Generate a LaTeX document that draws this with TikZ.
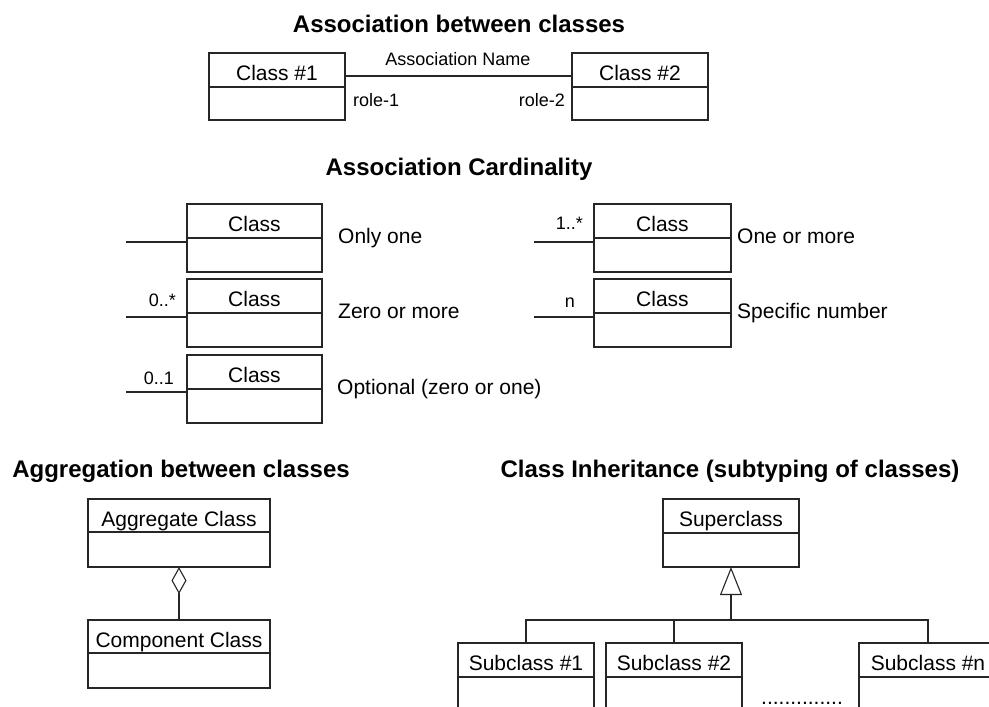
\documentclass[tikz,border=0pt]{standalone}
\usepackage{fontspec}
\setmainfont{Liberation Sans}
\usetikzlibrary{calc,arrows.meta}
\tikzset{
  umlline/.style={line width=1.1pt, draw=black!85},
  umlbox/.style={umlline, inner sep=0pt, outer sep=0pt, anchor=north west},
  clsname/.style={anchor=base, inner sep=0pt, font=\fontsize{21}{25}\selectfont},
  desc/.style={anchor=base west, inner sep=0pt, font=\fontsize{21}{25}\selectfont},
  small/.style={inner sep=0pt, font=\fontsize{18}{22}\selectfont},
  heading/.style={anchor=base, inner sep=0pt, font=\fontsize{24}{28}\selectfont\bfseries},
}
\newcommand\umlcls[7]{%
  \node[umlbox, minimum width=#4pt, minimum height=#5pt] (#1) at (#2,#3) {};
  \node[clsname] (#1t) at ([yshift=-27pt]#1.north) {#7};
  \draw[umlline] ([yshift=-#6pt]#1.north west) -- ([yshift=-#6pt]#1.north east);
}
\begin{document}
\begin{tikzpicture}[x=1pt,y=-1pt]
\clip (0,0) rectangle (989,707);
\fill[white] (0,0) rectangle (989,707);

% ---------- Association between classes ----------
\node[heading] (h1) at (459,32) {Association between classes};
\umlcls{c1}{209}{53}{136}{67}{34}{Class \#1}
\umlcls{c2}{572}{53}{136}{67}{34}{Class \#2}
\draw[umlline] ([yshift=-23pt]c1.north east) -- ([yshift=-23pt]c2.north west);
\node[small, anchor=base] (an) at (458,65) {Association Name};
\node[small, anchor=base west] (r1) at (353,106) {role-1};
\node[small, anchor=base east] (r2) at (565,106) {role-2};

% ---------- Association Cardinality ----------
\node[heading] (h2) at (459,175) {Association Cardinality};
\umlcls{k1}{187}{204}{135}{68}{34}{Class}
\umlcls{k2}{187}{279}{135}{68}{34}{Class}
\umlcls{k3}{187}{355}{135}{68}{34}{Class}
\umlcls{k4}{594}{204}{137}{68}{34}{Class}
\umlcls{k5}{594}{279}{137}{68}{34}{Class}

\coordinate (e1) at (126,242);
\coordinate (e2) at (126,317);
\coordinate (e3) at (126,392);
\coordinate (e4) at (534,242);
\coordinate (e5) at (534,317);
\draw[umlline] (e1) -- (e1 -| k1.west);
\draw[umlline] (e2) -- (e2 -| k2.west);
\draw[umlline] (e3) -- (e3 -| k3.west);
\draw[umlline] (e4) -- (e4 -| k4.west);
\draw[umlline] (e5) -- (e5 -| k5.west);

\node[small, anchor=base east] (m2) at (176,306) {0..*};
\node[small, anchor=base east] (m3) at (174,384) {0..1};
\node[small, anchor=base east] (m4) at (583,229) {1..*};
\node[small, anchor=base] (m5) at (570,307) {n};

\node[desc] (d1) at (338,243) {Only one};
\node[desc] (d2) at (338,318) {Zero or more};
\node[desc] (d3) at (337,394) {Optional (zero or one)};
\node[desc] (d4) at (737,243) {One or more};
\node[desc] (d5) at (737,318) {Specific number};

% ---------- Aggregation ----------
\node[heading] (h3) at (181,477) {Aggregation between classes};
\umlcls{agg}{88}{499}{182}{68}{33}{Aggregate Class}
\umlcls{comp}{88}{620}{182}{68}{33}{Component Class}
\draw[umlline, -{Diamond[open, length=27pt, width=15pt, line width=1.1pt]}] (comp.north) -- (agg.south);

% ---------- Inheritance ----------
\node[heading] (h4) at (730,477) {Class Inheritance (subtyping of classes)};
\umlcls{sup}{663}{499}{136}{68}{34}{Superclass}
\umlcls{s1}{458}{643}{136}{100}{34}{Subclass \#1}
\umlcls{s2}{606}{643}{136}{100}{34}{Subclass \#2}
\umlcls{sn}{859}{643}{138}{100}{34}{Subclass \#n}
\coordinate (join) at ([yshift=-53pt]sup.south);
\draw[umlline, -{Triangle[open, length=28pt, width=22pt, line width=1.1pt]}] (join) -- (sup.south);
\draw[umlline] (s1.north) -- (s1.north |- join) -- (sn.north |- join) -- (sn.north);
\draw[umlline] (s2.north) -- (s2.north |- join);
\node[clsname] (dots) at (802,704) {..............};
\end{tikzpicture}
\end{document}
